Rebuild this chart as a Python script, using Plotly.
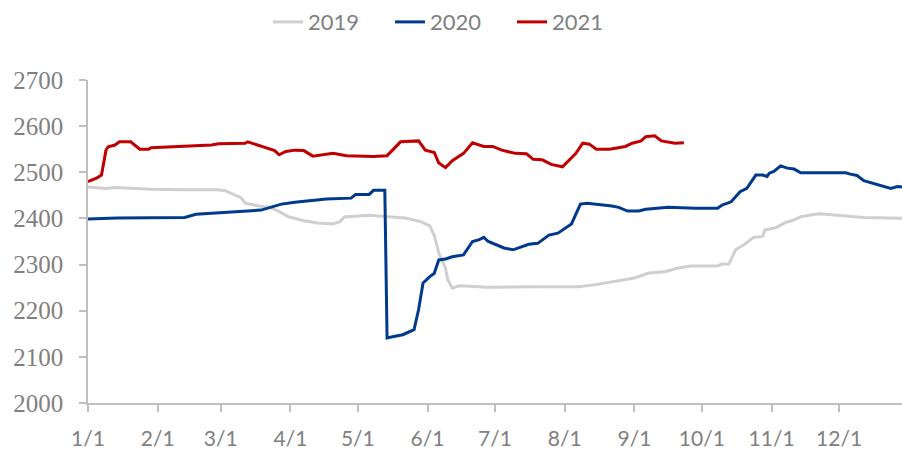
import plotly.graph_objects as go

# ---- data (month-day, value) ----
dates_2019 = ["01-01","01-09","01-13","01-22","01-29","02-13","02-28","03-03","03-07","03-10",
              "03-12","03-18","03-23","03-27","03-31","04-07","04-13","04-20","04-23","04-25",
              "05-06","05-14","05-22","05-29","06-02","06-04","06-06","06-09","06-10","06-12",
              "06-15","06-20","06-27","07-21","08-07","08-14","08-23","09-01","09-07","09-15",
              "09-20","09-26","10-08","10-10","10-13","10-16","10-20","10-24","10-28","10-29",
              "11-03","11-07","11-10","11-14","11-19","11-22","11-25","12-03","12-12","12-31"]
values_2019 = [2468,2465,2467,2465,2463,2462,2462,2460,2451,2445,
               2433,2427,2424,2415,2404,2395,2390,2388,2393,2403,
               2407,2404,2401,2393,2384,2363,2325,2292,2267,2249,
               2254,2253,2251,2252,2252,2256,2263,2271,2281,2285,
               2292,2297,2297,2301,2301,2332,2344,2359,2361,2375,
               2380,2391,2395,2404,2408,2410,2409,2405,2402,2400]

dates_2020 = ["01-01","01-14","02-13","02-18","02-25","03-07","03-13","03-19","03-24","03-28",
              "04-03","04-08","04-17","04-28","04-30","05-06","05-08","05-13","05-14","05-17",
              "05-21","05-26","05-28","05-30","06-02","06-04","06-06","06-09","06-12","06-17",
              "06-21","06-24","06-26","06-28","07-05","07-09","07-16","07-20","07-25","07-29",
              "08-04","08-08","08-11","08-22","08-25","08-29","09-03","09-06","09-16","09-28",
              "10-08","10-10","10-14","10-18","10-21","10-25","10-28","10-30","10-31","11-02",
              "11-05","11-08","11-11","11-14","12-04","12-06","12-09","12-12","12-15","12-21",
              "12-24","12-27","12-31"]
values_2020 = [2399,2401,2402,2409,2411,2415,2416,2418,2426,2431,
               2435,2438,2442,2444,2452,2452,2461,2461,2141,2144,
               2148,2159,2202,2260,2274,2281,2310,2312,2317,2321,
               2350,2354,2359,2350,2336,2332,2344,2346,2364,2368,
               2388,2431,2433,2427,2424,2416,2416,2420,2424,2422,
               2422,2429,2436,2458,2465,2494,2494,2491,2498,2502,
               2514,2509,2507,2499,2499,2496,2493,2482,2478,2470,
               2465,2469,2467]

dates_2021 = ["01-01","01-05","01-07","01-09","01-10","01-13","01-15","01-20","01-24","01-28",
              "01-29","02-13","02-25","02-28","03-12","03-13","03-16","03-21","03-25","03-27",
              "03-30","04-03","04-07","04-11","04-20","04-26","05-08","05-14","05-20","05-28",
              "05-31","06-04","06-06","06-09","06-12","06-17","06-21","06-26","06-30","07-04",
              "07-10","07-15","07-18","07-22","07-26","07-31","08-06","08-09","08-12","08-15",
              "08-21","08-28","08-31","09-04","09-06","09-10","09-13","09-19","09-23"]
values_2021 = [2480,2488,2494,2548,2555,2559,2566,2566,2550,2550,
               2553,2556,2559,2562,2563,2566,2561,2552,2547,2538,
               2545,2548,2547,2535,2541,2536,2534,2536,2566,2568,
               2548,2543,2520,2510,2525,2541,2564,2556,2556,2548,
               2541,2540,2528,2527,2517,2512,2541,2563,2561,2550,
               2550,2556,2563,2568,2577,2579,2568,2563,2564]

series = [("2019", dates_2019, values_2019, "#CFCFCF"),
          ("2020", dates_2020, values_2020, "#003A8C"),
          ("2021", dates_2021, values_2021, "#C00000")]

tick_dates = ["2019-%02d-01" % m for m in range(1, 13)]
tick_labels = ["%d/1" % m for m in range(1, 13)]

BASE_YEAR = "2019"

fig = go.Figure()
for name, d, v, color in series:
    fig.add_trace(go.Scatter(
        x=[BASE_YEAR + "-" + s for s in d], y=v, name=name, mode="lines",
        line=dict(color=color, width=3),
    ))

axis_color = "#BFBFBF"
fig.update_layout(
    width=902, height=451,
    margin=dict(l=88, r=0, t=80, b=48, autoexpand=False),
    paper_bgcolor="white", plot_bgcolor="white",
    showlegend=True,
    legend=dict(orientation="h", x=0.5, xanchor="center", xref="container",
                y=0.951, yref="container", yanchor="middle",
                font=dict(family="Lato", size=22, color="#808080"),
                entrywidth=77, entrywidthmode="pixels", tracegroupgap=0),
    xaxis=dict(
        type="date", range=["2019-01-01", "2019-12-29"], automargin=False,
        tickmode="array", tickvals=tick_dates, ticktext=tick_labels,
        showgrid=False, zeroline=False,
        showline=True, linecolor=axis_color, linewidth=1.5,
        ticks="outside", ticklen=7, tickcolor=axis_color, tickwidth=1.5,
        ticklabelstandoff=9,
        tickfont=dict(family="Lato", size=21, color="#808080"),
    ),
    yaxis=dict(
        range=[2000, 2700], tickmode="linear", tick0=2000, dtick=100, automargin=False,
        showgrid=False, zeroline=False,
        showline=True, linecolor=axis_color, linewidth=1.5,
        ticks="outside", ticklen=7, tickcolor=axis_color, tickwidth=1.5,
        ticklabelstandoff=11,
        tickfont=dict(family="Liberation Serif", size=25, color="#808080"),
    ),
)

fig.write_html("out.html",
               config={"displayModeBar": False},
               post_script="document.body.style.margin='0px';document.body.style.overflow='hidden';")
